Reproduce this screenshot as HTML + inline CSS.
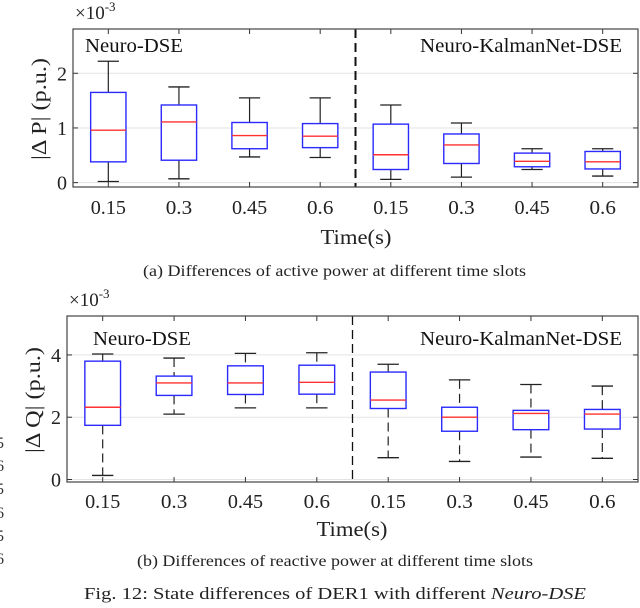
<!DOCTYPE html>
<html><head><meta charset="utf-8"><style>
html,body{margin:0;padding:0;background:#fff;width:640px;height:608px;overflow:hidden}
svg{display:block;font-family:"Liberation Serif",serif}
</style></head><body>
<svg id="fig" width="640" height="608" viewBox="0 0 640 608" xmlns="http://www.w3.org/2000/svg"></svg>
<script>
const tickLabels = ["0.15","0.3","0.45","0.6","0.15","0.3","0.45","0.6"];
// chart a: active power (x1e-3)
const aWhiskHi = [2.22,1.75,1.55,1.55,1.42,1.09,0.62,0.62];
const aQ3      = [1.65,1.42,1.10,1.08,1.07,0.89,0.54,0.57];
const aMed     = [0.96,1.11,0.86,0.85,0.51,0.69,0.39,0.38];
const aQ1      = [0.38,0.41,0.62,0.64,0.24,0.35,0.29,0.25];
const aWhiskLo = [0.02,0.07,0.47,0.46,0.06,0.10,0.24,0.12];
const aYTicks  = [0,1,2];
// chart b: reactive power (x1e-3)
const bWhiskHi = [4.03,3.90,4.05,4.07,3.70,3.20,3.05,3.00];
const bQ3      = [3.80,3.32,3.65,3.67,3.45,2.32,2.22,2.25];
const bMed     = [2.32,3.10,3.10,3.12,2.55,2.00,2.12,2.10];
const bQ1      = [1.74,2.70,2.73,2.74,2.28,1.55,1.60,1.62];
const bWhiskLo = [0.13,2.10,2.30,2.30,0.70,0.58,0.72,0.68];
const bYTicks  = [0,2,4];

const svg = document.getElementById('fig');
const NS = 'http://www.w3.org/2000/svg';
function mk(tag, attrs, parent){
  const e = document.createElementNS(NS, tag);
  for (const k in attrs) e.setAttribute(k, attrs[k]);
  (parent||svg).appendChild(e);
  return e;
}
function txt(s, attrs, parent){ const e = mk('text', attrs, parent); e.textContent = s; return e; }

function chart(cfg){
  const g = mk('g', {});
  
  
  const L=cfg.left, R=cfg.right, T=cfg.top, B=cfg.bottom;
  const xS = p => L + (p-0.5)/8*(R-L);
  const yS = v => B - (v-cfg.ymin)/(cfg.ymax-cfg.ymin)*(B-T);
  cfg.yticks.forEach(t=>{
    const gl = mk('line',{x1:L,x2:R,y1:yS(t),y2:yS(t),stroke:'#e3e3e3','stroke-width':1},g);
    
    
    mk('line',{x1:L,x2:L+5,y1:yS(t),y2:yS(t),stroke:'#333','stroke-width':1},g);
    mk('line',{x1:R,x2:R-5,y1:yS(t),y2:yS(t),stroke:'#333','stroke-width':1},g);
    const tl = txt(String(t),{x:L-6,y:yS(t)+7,'font-size':20,'text-anchor':'end',fill:'#222'},g);
    
    
  });
  tickLabels.forEach((lab,i)=>{
    const x = xS(i+1);
    mk('line',{x1:x,x2:x,y1:B,y2:B-5,stroke:'#333','stroke-width':1},g);
    mk('line',{x1:x,x2:x,y1:T,y2:T+5,stroke:'#333','stroke-width':1},g);
    const tl = txt(lab,{x:x,y:cfg.tickY,'font-size':20,'text-anchor':'middle',fill:'#222',textLength:lab.length*8.8,lengthAdjust:'spacingAndGlyphs'},g);
    
    
  });
  const dv = mk('line',{x1:xS(4.5),x2:xS(4.5),y1:T,y2:B,stroke:'#111','stroke-width':cfg.divW,'stroke-dasharray':cfg.divDash},g);
  
  
  const hw = 0.25;
  for (let i=0;i<8;i++){
    const p=i+1, x=xS(p), x0=xS(p-hw), x1=xS(p+hw), cw=(x1-x0)*0.3;
    const bg = mk('g',{},g);
    
    
    mk('line',{x1:x,x2:x,y1:yS(cfg.hi[i]),y2:yS(cfg.q3[i]),stroke:'#222','stroke-width':1.2,'stroke-dasharray':cfg.wDash},bg);
    mk('line',{x1:x,x2:x,y1:yS(cfg.q1[i]),y2:yS(cfg.lo[i]),stroke:'#222','stroke-width':1.2,'stroke-dasharray':cfg.wDash},bg);
    mk('line',{x1:x-cw,x2:x+cw,y1:yS(cfg.hi[i]),y2:yS(cfg.hi[i]),stroke:'#222','stroke-width':1.3},bg);
    mk('line',{x1:x-cw,x2:x+cw,y1:yS(cfg.lo[i]),y2:yS(cfg.lo[i]),stroke:'#222','stroke-width':1.3},bg);
    mk('rect',{x:x0,y:yS(cfg.q3[i]),width:x1-x0,height:yS(cfg.q1[i])-yS(cfg.q3[i]),fill:'#fff',stroke:'#2a2aff','stroke-width':1.4},bg);
    mk('line',{x1:x0,x2:x1,y1:yS(cfg.med[i]),y2:yS(cfg.med[i]),stroke:'#ff3030','stroke-width':1.4},bg);
  }
  const fr = mk('rect',{x:L,y:T,width:R-L,height:B-T,fill:'none',stroke:'#444','stroke-width':1.2},g);
  
  
  const ex = txt('',{x:L+2,y:T-10,'font-size':19,fill:'#222'},g);
  
  
  ex.innerHTML = '×10<tspan dy="-8" font-size="13">-3</tspan>';
  const l1 = txt('Neuro-DSE',{x:cfg.ndX,y:cfg.annY,'font-size':20,fill:'#111',textLength:98,lengthAdjust:'spacingAndGlyphs'},g);
  
  
  const l2 = txt('Neuro-KalmanNet-DSE',{x:R-16,y:cfg.annY,'font-size':20,'text-anchor':'end',fill:'#111',textLength:202,lengthAdjust:'spacingAndGlyphs'},g);
  
  
  const yl = txt(cfg.ylabel,{x:0,y:0,'font-size':21,'text-anchor':'middle',fill:'#222',textLength:cfg.ylLen,lengthAdjust:'spacingAndGlyphs',transform:`translate(${cfg.ylX},${cfg.ylY}) rotate(-90)`},g);
  
  
  const xl = txt('Time(s)',{x:cfg.xtX,y:cfg.xtY,'font-size':21,'text-anchor':'middle',fill:'#222',textLength:71,lengthAdjust:'spacingAndGlyphs'},g);
  
  
  const cp = txt(cfg.caption,{x:cfg.capX,y:cfg.capY,'font-size':16,fill:'#222',textLength:cfg.capLen,lengthAdjust:'spacingAndGlyphs'},g);
  
  
}

chart({name:'active-power-chart',left:73,right:638,top:29,bottom:187,ymin:-0.08,ymax:2.81,yticks:aYTicks,
  hi:aWhiskHi,q3:aQ3,med:aMed,q1:aQ1,lo:aWhiskLo,wDash:'none',divW:2,divDash:'9,5',
  tickY:214,annY:52,ndX:85,ylabel:'|Δ P| (p.u.)',ylLen:102,ylX:46,ylY:109,xtX:356,xtY:244,
  capX:143,capLen:383,capY:276,
  caption:'(a) Differences of active power at different time slots'});
chart({name:'reactive-power-chart',left:67,right:638,top:316,bottom:482,ymin:-0.08,ymax:5.25,yticks:bYTicks,
  hi:bWhiskHi,q3:bQ3,med:bMed,q1:bQ1,lo:bWhiskLo,wDash:'9,5',divW:1.3,divDash:'9,5',
  tickY:508,annY:345,ndX:93,ylabel:'|Δ Q| (p.u.)',ylLen:106,ylX:40,ylY:400,xtX:352,xtY:536,
  capX:137,capLen:396,capY:566,
  caption:'(b) Differences of reactive power at different time slots'});

const fc = txt('',{x:84,y:599,'font-size':17,fill:'#222',textLength:502,lengthAdjust:'spacingAndGlyphs'});


fc.innerHTML = 'Fig. 12: State differences of DER1 with different <tspan font-style="italic">Neuro-DSE</tspan>';

const marg = ['5','6','5','6','5','6'];
const margY = [448,471,494,518,541,564];
marg.forEach((m,i)=>{
  const t = txt(m,{x:-4,y:margY[i],'font-size':16,fill:'#333'});
  
  
});
</script>
</body></html>
